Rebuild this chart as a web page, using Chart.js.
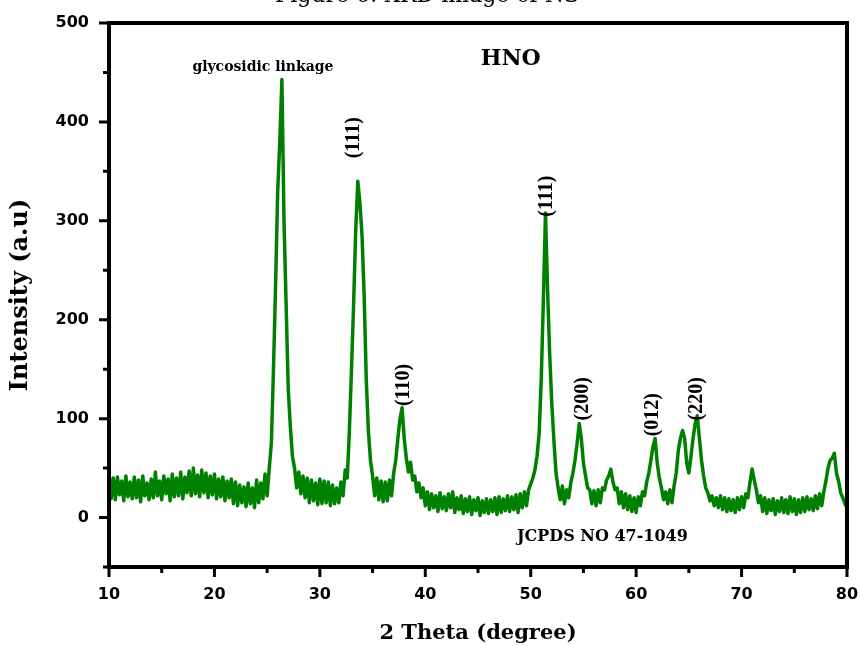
<!DOCTYPE html>
<html>
<head>
<meta charset="utf-8">
<script src="https://cdn.jsdelivr.net/npm/chart.js@4.4.0/dist/chart.umd.min.js"></script>
<style>
  body { margin: 0; background: #fff; }
  #wrap { width: 860px; height: 646px; }
</style>
</head>
<body>
<div id="wrap"><canvas id="myChart"></canvas></div>
<script>
// scan grid: 2 theta from 10 to 80 deg, 0.2 deg steps
var thetaStart = 10;
var thetaStep = 0.2;

// intensity (a.u), one row = 2 degrees
var intensity = [
  44, 19, 40, 18, 41, 23, 37, 17, 42, 21,      // 10
  36, 19, 41, 20, 38, 16, 42, 22, 35, 18,      // 12
  39, 20, 46, 22, 37, 18, 42, 24, 39, 17,      // 14
  44, 21, 40, 22, 46, 19, 41, 25, 47, 22,      // 16
  50, 24, 43, 21, 48, 25, 45, 20, 42, 23,      // 18
  44, 19, 39, 21, 41, 17, 37, 20, 39, 14,      // 20
  36, 12, 33, 15, 31, 11, 35, 14, 30, 10,      // 22
  38, 15, 35, 19, 44, 22, 50, 75, 150, 235,    // 24
  330, 380, 443, 300, 215, 130, 92, 62, 50, 30, // 26
  46, 24, 42, 20, 40, 15, 38, 17, 35, 13,      // 28
  39, 14, 37, 15, 36, 12, 33, 14, 30, 15,      // 30
  36, 22, 48, 40, 88, 150, 215, 290, 340, 318, // 32
  285, 225, 140, 88, 58, 42, 22, 40, 18, 37,   // 34
  16, 36, 17, 38, 22, 45, 58, 80, 100, 111,    // 36
  80, 60, 46, 56, 38, 42, 26, 35, 20, 30,      // 38
  12, 26, 8, 24, 10, 22, 6, 25, 9, 21,         // 40
  7, 24, 10, 26, 5, 20, 8, 22, 4, 19,          // 42
  6, 21, 3, 18, 7, 20, 2, 17, 5, 19,           // 44
  4, 18, 6, 20, 3, 21, 5, 19, 7, 22,           // 46
  6, 21, 8, 23, 5, 24, 10, 26, 12, 28,         // 48
  34, 40, 48, 62, 85, 140, 220, 308, 230, 165, // 50
  115, 78, 45, 30, 18, 32, 14, 28, 20, 35,     // 52
  45, 58, 75, 95, 80, 55, 42, 30, 28, 14,      // 54
  27, 12, 28, 15, 30, 28, 38, 42, 49, 36,      // 56
  28, 30, 14, 26, 10, 24, 8, 22, 6, 20,        // 58
  5, 21, 12, 26, 22, 36, 45, 58, 72, 80,       // 60
  55, 40, 30, 18, 26, 14, 28, 15, 32, 45,      // 62
  68, 80, 88, 80, 55, 45, 62, 80, 95, 103,     // 64
  80, 58, 42, 30, 25, 17, 22, 12, 20, 10,      // 66
  22, 8, 20, 6, 19, 7, 18, 5, 20, 8,           // 68
  21, 10, 24, 20, 36, 49, 38, 28, 15, 22,      // 70
  6, 20, 4, 18, 7, 19, 3, 17, 6, 20,           // 72
  5, 18, 4, 21, 6, 19, 3, 18, 5, 20,           // 74
  6, 21, 8, 19, 7, 22, 9, 24, 12, 26,          // 76
  37, 50, 58, 60, 65, 45, 37, 25, 20, 14,      // 78
  10                                           // 80
];

// hkl labels over the peaks (position in 2 theta / intensity units)
var peakLabels = ['(111)', '(110)', '(111)', '(200)', '(012)', '(220)'];
var peakLabelX = [33.2, 37.95, 51.5, 54.9, 61.6, 65.8];
var peakLabelY = [384, 134, 325, 120, 104, 120];

var points = intensity.map(function(v, i) {
  return { x: +(thetaStart + i * thetaStep).toFixed(1), y: v };
});

var xrdDecor = {
  id: 'xrdDecor',
  afterDraw: function(chart) {
    var c = chart.ctx;
    var a = chart.chartArea;
    var xs = chart.scales.x;
    var ys = chart.scales.y;
    c.save();

    // frame
    c.strokeStyle = '#000';
    c.lineWidth = 4;
    c.strokeRect(a.left, a.top, a.right - a.left, a.bottom - a.top);

    // outward tick marks
    c.lineWidth = 3;
    c.beginPath();
    xs.ticks.forEach(function(t) {
      var px = xs.getPixelForValue(t.value);
      var len = (t.value % 10 === 0) ? 10 : 6;
      c.moveTo(px, a.bottom);
      c.lineTo(px, a.bottom + len);
    });
    ys.ticks.forEach(function(t) {
      var py = ys.getPixelForValue(t.value);
      var len = (t.value % 100 === 0) ? 10 : 6;
      c.moveTo(a.left, py);
      c.lineTo(a.left - len, py);
    });
    c.stroke();

    c.fillStyle = '#000';
    c.textAlign = 'center';
    c.textBaseline = 'middle';

    c.font = 'bold 14px "DejaVu Serif"';
    c.fillText('glycosidic linkage', xs.getPixelForValue(24.6), ys.getPixelForValue(455));

    c.font = 'bold 22px "DejaVu Serif"';
    c.fillText('HNO', xs.getPixelForValue(48.1), ys.getPixelForValue(463));

    c.font = 'bold 16px "DejaVu Serif"';
    c.fillText('JCPDS NO 47-1049', xs.getPixelForValue(56.8), ys.getPixelForValue(-20));

    c.font = 'bold 20px "Liberation Serif"';
    peakLabels.forEach(function(lbl, i) {
      c.save();
      c.translate(xs.getPixelForValue(peakLabelX[i]), ys.getPixelForValue(peakLabelY[i]));
      c.rotate(-Math.PI / 2);
      c.fillText(lbl, 0, 0);
      c.restore();
    });

    // caption of the page, cut off at the top edge
    c.font = '22px "DejaVu Serif"';
    c.textBaseline = 'alphabetic';
    c.fillText('Figure 6: XRD image of NS', 427, 2);

    c.restore();
  }
};

var ctx = document.getElementById('myChart').getContext('2d');
var myChart = new Chart(ctx, {
  type: 'line',
  data: {
    datasets: [{
      label: 'HNO',
      data: points,
      borderColor: 'rgb(0, 128, 0)',
      borderWidth: 3.5,
      borderJoinStyle: 'round',
      pointRadius: 0,
      tension: 0,
      fill: false
    }]
  },
  options: {
    responsive: true,
    maintainAspectRatio: false,
    animation: false,
    layout: { padding: { left: 0, top: 23, right: 13, bottom: 0 } },
    plugins: {
      legend: { display: false },
      tooltip: { enabled: false }
    },
    scales: {
      x: {
        type: 'linear',
        min: 10,
        max: 80,
        grid: { display: false, drawTicks: false },
        border: { display: false },
        ticks: {
          stepSize: 5,
          autoSkip: false,
          maxRotation: 0,
          padding: 18,
          color: '#000',
          font: { family: 'DejaVu Sans', weight: 'bold', size: 16 },
          callback: function(v) { return v % 10 === 0 ? v : ''; }
        },
        title: {
          display: true,
          text: '2 Theta (degree)',
          color: '#000',
          font: { family: 'DejaVu Serif', weight: 'bold', size: 21 },
          padding: { top: 8, bottom: 0 }
        },
        afterFit: function(s) {
          s.height = 79;
          s.paddingLeft = 0;
          s.paddingRight = 0;
        }
      },
      y: {
        min: -50,
        max: 500,
        grid: { display: false, drawTicks: false },
        border: { display: false },
        ticks: {
          stepSize: 50,
          autoSkip: false,
          padding: 20,
          color: '#000',
          font: { family: 'DejaVu Sans', weight: 'bold', size: 16 },
          callback: function(v) { return (v % 100 === 0 && v >= 0) ? v : ''; }
        },
        title: {
          display: true,
          text: 'Intensity (a.u)',
          color: '#000',
          font: { family: 'DejaVu Serif', weight: 'bold', size: 24 },
          padding: { top: 6, bottom: 0 }
        },
        afterFit: function(s) {
          s.width = 109;
          s.paddingTop = 0;
          s.paddingBottom = 0;
        }
      }
    }
  },
  plugins: [xrdDecor]
});
</script>
</body>
</html>
